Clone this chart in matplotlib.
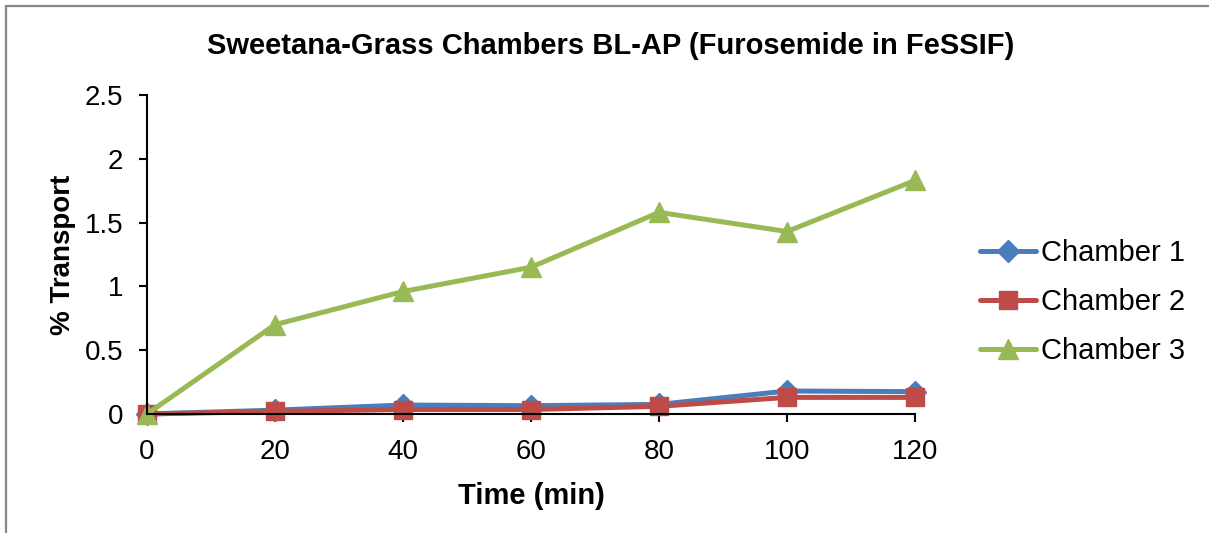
import matplotlib
matplotlib.use("Agg")
import matplotlib.pyplot as plt
from matplotlib.patches import Rectangle

plt.rcParams['font.family'] = ['Liberation Sans', 'DejaVu Sans']

time_min = [0, 20, 40, 60, 80, 100, 120]
chamber_1 = [0.0, 0.03, 0.07, 0.065, 0.075, 0.18, 0.175]
chamber_2 = [0.0, 0.02, 0.035, 0.035, 0.06, 0.13, 0.13]
chamber_3 = [0.0, 0.70, 0.96, 1.15, 1.58, 1.43, 1.83]

series = [
    ("Chamber 1", chamber_1, "#4A7EBB", "D", 11),
    ("Chamber 2", chamber_2, "#BE4B48", "s", 12.5),
    ("Chamber 3", chamber_3, "#98B954", "^", 15),
]

fig = plt.figure(figsize=(12.09, 5.33), dpi=100)
ax = fig.add_axes([0.1216, 0.2233, 0.6352, 0.5985])

for name, vals, color, marker, ms in series:
    ax.plot(time_min, vals, color=color, lw=3.6, marker=marker, ms=ms,
            markerfacecolor=color, markeredgecolor=color, label=name,
            solid_capstyle='round', clip_on=False)

ax.set_xlim(0, 120)
ax.set_ylim(0, 2.5)
ax.set_xticks(time_min)
ax.set_yticks([0, 0.5, 1, 1.5, 2, 2.5])
ax.set_yticklabels(["0", "0.5", "1", "1.5", "2", "2.5"])
ax.tick_params(axis='both', labelsize=20, length=6, width=1.5, direction='out')
ax.tick_params(axis='y', pad=11)
ax.tick_params(axis='x', pad=12)
ax.spines['top'].set_visible(False)
ax.spines['right'].set_visible(False)
for sp in ('left', 'bottom'):
    ax.spines[sp].set_linewidth(1.5)

ax.set_xlabel("Time (min)", fontsize=21, fontweight='bold', labelpad=12)
ax.set_ylabel("% Transport", fontsize=20, fontweight='bold', labelpad=6)
fig.suptitle("Sweetana-Grass Chambers BL-AP (Furosemide in FeSSIF)",
             fontsize=21, fontweight='bold', x=0.505, y=0.94)

leg = ax.legend(loc='center left', bbox_to_anchor=(1.051, 0.35), frameon=False,
                fontsize=21, handlelength=1.9, handletextpad=0.17,
                labelspacing=0.72)

# chart area border
fig.patches.append(Rectangle((6 / 1209, -0.01), 1.02, 1 - 6 / 533 + 0.01,
                             transform=fig.transFigure, fill=False,
                             edgecolor='#878787', lw=1.6))

fig.savefig("out.png", dpi=100)
